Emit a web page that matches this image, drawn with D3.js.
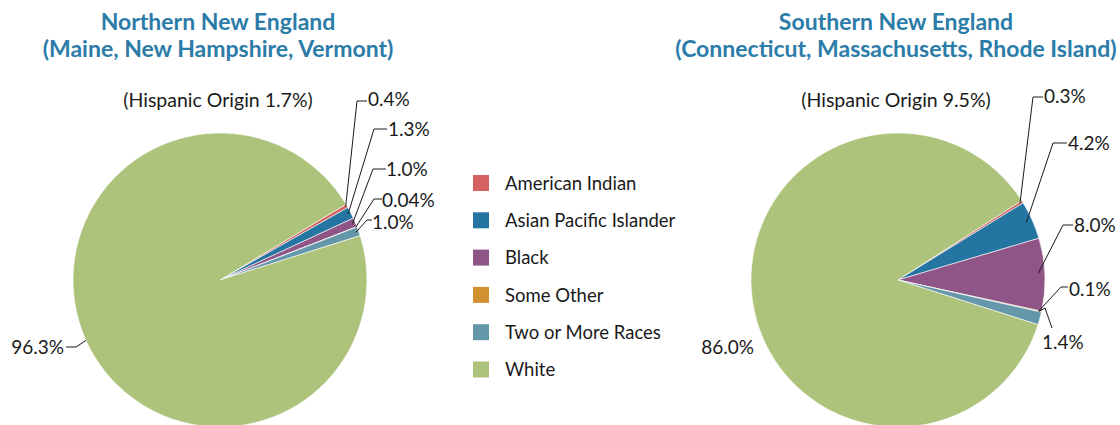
<!DOCTYPE html>
<html>
<head>
<meta charset="utf-8">
<script src="https://cdn.jsdelivr.net/npm/d3@7"></script>
<style>
  body { margin: 0; background: #fff; }
  svg text { font-family: Lato, "Open Sans", sans-serif; fill: #1a1a1a; }
</style>
</head>
<body>
<svg id="chart" width="1120" height="425"></svg>
<script>
const width = 1120;
const height = 425;

// data
const categories = ["American Indian", "Asian Pacific Islander", "Black", "Some Other", "Two or More Races", "White"];
const colors = ["#d5625f", "#2475a2", "#8e5586", "#d29130", "#6597aa", "#adc27a"];
const northValues = [0.4, 1.3, 1.0, 0.04, 1.0, 96.3];
const southValues = [0.3, 4.2, 8.0, 0.1, 1.4, 86.0];
const northLabels = ["0.4%", "1.3%", "1.0%", "0.04%", "1.0%", "96.3%"];
const southLabels = ["0.3%", "4.2%", "8.0%", "0.1%", "1.4%", "86.0%"];
const northTitle = ["Northern New England", "(Maine, New Hampshire, Vermont)"];
const southTitle = ["Southern New England", "(Connecticut, Massachusetts, Rhode Island)"];
const northHispanic = "(Hispanic Origin 1.7%)";
const southHispanic = "(Hispanic Origin 9.5%)";

// leader layout (relative to pie centre): f = fraction along slice, rf = radius fraction
const northLayout = [
    { f: 0.5, rf: 0.99, pts: [[137, -179], [147, -179]], tx: 148, ty: -181, anchor: "start" },
    { f: 0.5, rf: 0.98, pts: [[154, -151], [167, -151]], tx: 168, ty: -151, anchor: "start" },
    { f: 0.5, rf: 0.98, pts: [[153, -111], [166, -111]], tx: 166, ty: -111, anchor: "start" },
    { f: 0.5, rf: 0.99, pts: [[154, -81], [162, -81]], tx: 162, ty: -80, anchor: "start" },
    { f: 0.5, rf: 0.98, pts: [[147, -60], [152, -60]], tx: 152, ty: -58, anchor: "start" },
    { f: 0.5, rf: 1.0, pts: [[-144, 67], [-154, 67]], tx: -156, ty: 67, anchor: "end" }
];
const southLayout = [
    { f: 0.5, rf: 0.98, pts: [[135, -183], [145, -183]], tx: 146, ty: -184, anchor: "start" },
    { f: 0.5, rf: 0.956, pts: [[155, -137], [169, -137]], tx: 170, ty: -137, anchor: "start" },
    { f: 0.48, rf: 0.955, pts: [[165, -55], [175, -55]], tx: 176, ty: -55, anchor: "start" },
    { f: 0.5, rf: 0.98, pts: [[163, 7], [170, 7]], tx: 171, ty: 9, anchor: "start" },
    { f: 0.0, rf: 0.98, pts: [[147, 28], [154, 48]], tx: 144, ty: 62, anchor: "start" },
    { f: 0.5, rf: 1.0, pts: null, tx: -144, ty: 67, anchor: "end" }
];

const svg = d3.select("#chart");
const deg = Math.PI / 180;
const radius = 147;

function drawPie(cx, cy, values, labels, layout, startDeg, title, hispanic) {
    const g = svg.append("g").attr("transform", `translate(${cx},${cy})`);

    const pie = d3.pie().sort(null)
        .startAngle(startDeg * deg)
        .endAngle(startDeg * deg + 2 * Math.PI);
    const arc = d3.arc().innerRadius(0).outerRadius(radius);
    const arcs = pie(values);

    g.selectAll("path.slice")
        .data(arcs)
        .enter()
        .append("path")
        .attr("class", "slice")
        .attr("d", arc)
        .attr("fill", (d, i) => colors[i])
        .attr("stroke", "#fff")
        .attr("stroke-width", 0.6);

    arcs.forEach((d, i) => {
        const lay = layout[i];
        if (lay.pts) {
            const a = d.startAngle + (d.endAngle - d.startAngle) * lay.f;
            const r = radius * lay.rf;
            const start = [Math.sin(a) * r, -Math.cos(a) * r];
            g.append("path")
                .attr("d", d3.line()([start].concat(lay.pts)))
                .attr("fill", "none")
                .attr("stroke", "#1a1a1a")
                .attr("stroke-width", 1);
        }
        g.append("text")
            .attr("x", lay.tx)
            .attr("y", lay.ty)
            .attr("dy", "0.36em")
            .attr("text-anchor", lay.anchor)
            .attr("font-size", 19)
            .text(labels[i]);
    });

    g.append("text")
        .attr("x", -2)
        .attr("y", -173)
        .attr("text-anchor", "middle")
        .attr("font-size", 19.5)
        .text(hispanic);

    const t = svg.append("text")
        .attr("x", cx - 2)
        .attr("text-anchor", "middle")
        .attr("font-size", 23)
        .attr("font-weight", "bold")
        .style("fill", "#2b7ca8");
    title.forEach((line, i) => {
        t.append("tspan")
            .attr("x", cx - 2)
            .attr("y", 30 + i * 27)
            .text(line);
    });
}

drawPie(220, 280, northValues, northLabels, northLayout, 59, northTitle, northHispanic);
drawPie(898, 280, southValues, southLabels, southLayout, 57.3, southTitle, southHispanic);

// legend
const legend = svg.append("g").attr("transform", "translate(473,175)");
const rows = legend.selectAll("g")
    .data(categories)
    .enter()
    .append("g")
    .attr("transform", (d, i) => `translate(0,${i * 37.3})`);
rows.append("rect")
    .attr("width", 16)
    .attr("height", 16)
    .attr("fill", (d, i) => colors[i]);
rows.append("text")
    .attr("x", 32)
    .attr("y", 8)
    .attr("dy", "0.36em")
    .attr("font-size", 18.5)
    .text(d => d);
</script>
</body>
</html>
